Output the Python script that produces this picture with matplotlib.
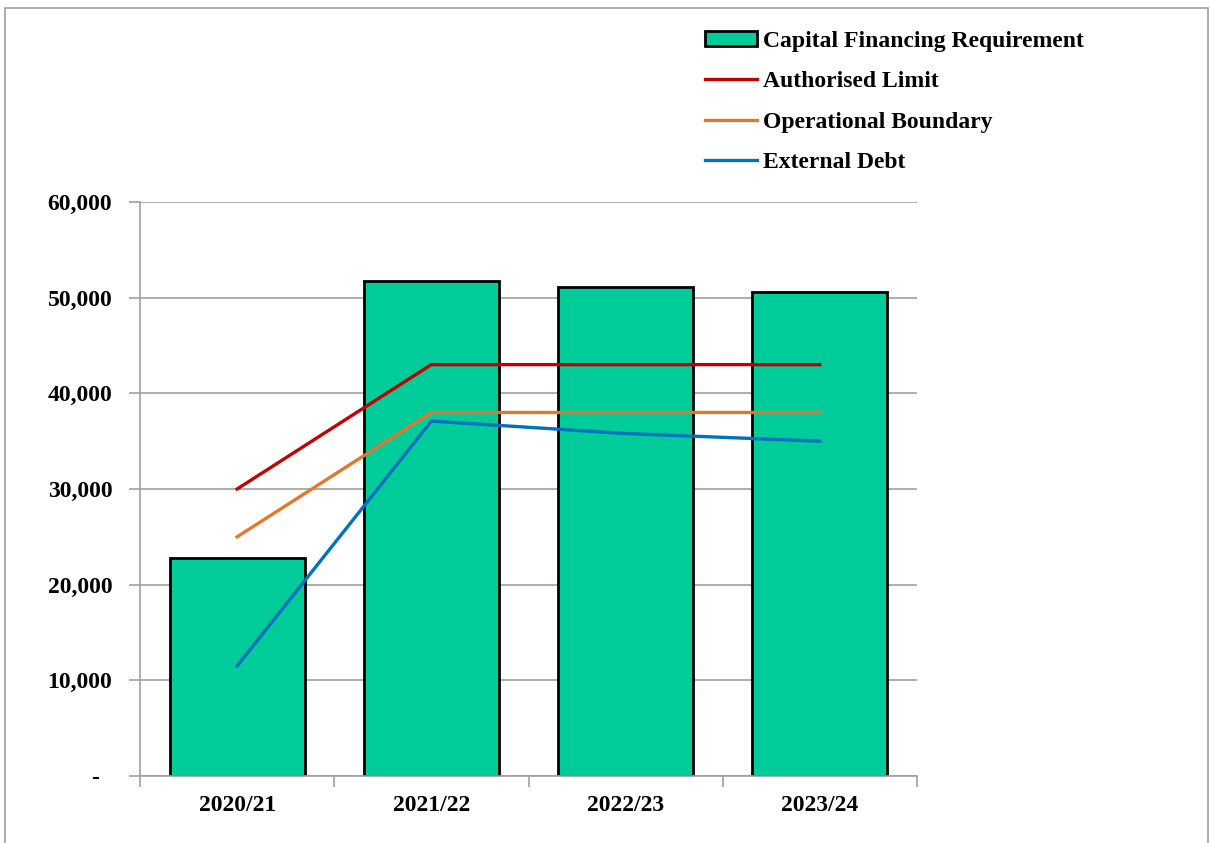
import matplotlib
matplotlib.use("Agg")
import matplotlib.pyplot as plt
from matplotlib.patches import Rectangle, Patch
from matplotlib.lines import Line2D
from matplotlib.ticker import FuncFormatter
import numpy as np

categories = ["2020/21", "2021/22", "2022/23", "2023/24"]
cfr = [22800, 51750, 51100, 50600]
authorised = [30000, 43000, 43000, 43000]
operational = [25000, 38000, 38000, 38000]
external = [11500, 37100, 35800, 35000]
yticks = [0, 10000, 20000, 30000, 40000, 50000, 60000]

plt.rcParams['font.family'] = ['Liberation Serif', 'DejaVu Serif']
plt.rcParams['font.weight'] = 'bold'

fig = plt.figure(figsize=(12.1, 8.43), dpi=100)
ax = fig.add_axes([140/1210, 1-776/843, (917-140)/1210, (776-202)/843])

x = np.arange(len(categories))
ax.bar(x, cfr, width=0.695, color='#00CC99', edgecolor='black', linewidth=2, zorder=2)
ax.plot(x, authorised, color='#C00000', lw=2.4, zorder=3)
ax.plot(x, operational, color='#E0782F', lw=2.4, zorder=3)
ax.plot(x, external, color='#0070C0', lw=2.4, zorder=3)

ax.set_xlim(-0.5, len(categories) - 0.5)
ax.set_ylim(0, 60000)
ax.set_yticks(yticks)
ax.yaxis.set_major_formatter(FuncFormatter(lambda v, p: '-\u2007' if v == 0 else f"{int(v):,}"))
ax.set_xticks(x)
ax.set_xticklabels(categories)
ax.set_xticks(np.arange(-0.5, len(categories)), minor=True)
ax.tick_params(axis='x', which='major', length=0, pad=14, labelsize=17)
ax.tick_params(axis='x', which='minor', length=8, color='#A0A0A0', width=1.2, direction='out')
ax.tick_params(axis='y', length=8, color='#A0A0A0', width=1.2, direction='out', pad=12, labelsize=17)
for lab in ax.get_xticklabels() + ax.get_yticklabels():
    lab.set_fontweight('bold')
ax.grid(axis='y', color='#A0A0A0', lw=1.2, zorder=0)
ax.set_axisbelow(True)
for s in ['top', 'right']:
    ax.spines[s].set_visible(False)
for s in ['left', 'bottom']:
    ax.spines[s].set_color('#A0A0A0')
    ax.spines[s].set_linewidth(1.2)

handles = [
    Patch(facecolor='#00CC99', edgecolor='black', linewidth=2),
    Line2D([], [], color='#C00000', lw=2.4),
    Line2D([], [], color='#E0782F', lw=2.4),
    Line2D([], [], color='#0070C0', lw=2.4),
]
labels = ["Capital Financing Requirement", "Authorised Limit", "Operational Boundary", "External Debt"]
fig.legend(handles, labels, loc='upper left', bbox_to_anchor=(705/1210, 1-31/843),
           frameon=False, prop={'family': 'Liberation Serif', 'weight': 'bold', 'size': 17},
           handlelength=2.2, handleheight=0.6, handletextpad=0.25, labelspacing=0.82,
           borderaxespad=0, borderpad=0)

fig.patches.append(Rectangle((5/1210, -0.01), 1203/1210, 1.01 - 8/843, transform=fig.transFigure,
                             fill=False, edgecolor='#A0A0A0', lw=1.2))

fig.savefig('out.png', dpi=100)
